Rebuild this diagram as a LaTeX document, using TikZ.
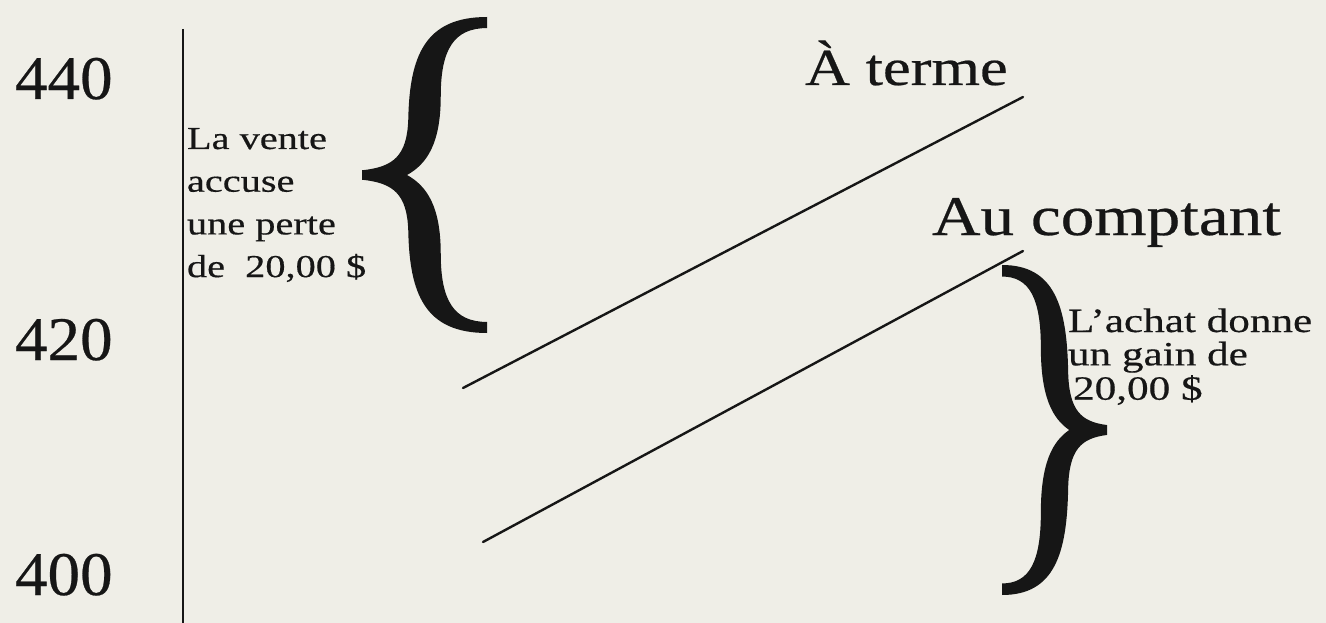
\documentclass[tikz,border=0pt]{standalone}
\usepackage{fontspec}
\setmainfont{Liberation Serif}
\newfontface\inkfont[FakeBold=0.4]{Liberation Serif}
\definecolor{bg}{RGB}{239,238,231}
\definecolor{ink}{RGB}{22,22,22}
\tikzset{
  lbl/.style={inner sep=0pt, outer sep=0pt, text=ink, anchor=base west, font=\inkfont},
  chartline/.style={draw=ink, line width=2.4pt, line cap=round},
  axisline/.style={draw=ink, line width=2pt},
  bracepic/.pic={
    \fill[ink] (0,0.03) .. controls (0.25,0.05) and (0.36,0.12) .. (0.37,0.35)
      .. controls (0.38,0.75) and (0.5,1.0) .. (1,1.0) -- (1,0.93)
      .. controls (0.74,0.93) and (0.63,0.8) .. (0.63,0.5)
      .. controls (0.63,0.2) and (0.52,0.07) .. (0.36,0)
      .. controls (0.52,-0.07) and (0.63,-0.2) .. (0.63,-0.5)
      .. controls (0.63,-0.8) and (0.74,-0.93) .. (1,-0.93) -- (1,-1.0)
      .. controls (0.5,-1.0) and (0.38,-0.75) .. (0.37,-0.35)
      .. controls (0.36,-0.12) and (0.25,-0.05) .. (0,-0.03) -- cycle;
  }
}
\begin{document}
\begin{tikzpicture}[x=1pt,y=-1pt]
\fill[bg] (0,0) rectangle (1326,623);
\useasboundingbox (0,0) rectangle (1326,623);

% axis
\coordinate (axtop) at (183,29);
\coordinate (axbot) at (183,623);
\draw[axisline] (axtop) -- (axbot);

% axis values
\node[lbl] (v440) at (15,99) {\fontsize{62}{62}\selectfont\scalebox{1.05}[1]{440}};
\node[lbl] (v420) at (15,360) {\fontsize{62}{62}\selectfont\scalebox{1.05}[1]{420}};
\node[lbl] (v400) at (15,595) {\fontsize{62}{62}\selectfont\scalebox{1.05}[1]{400}};

% left label
\node[lbl] (perte) at (187,149) {\fontsize{32}{42.7}\selectfont\scalebox{1.26}[1]{\begin{tabular}[t]{@{}l@{}}La vente\\ accuse\\ une perte\\ de\ \ 20,00 \$\end{tabular}}};

% braces
\pic at (362,175) [xscale=125, yscale=158] {bracepic};
\pic at (1107,430) [xscale=-105, yscale=165] {bracepic};

% lines
\coordinate (t1) at (463,388);
\coordinate (t2) at (1023,97);
\coordinate (c1) at (483,542);
\coordinate (c2) at (1023,251);
\draw[chartline] (t1) -- (t2);
\draw[chartline] (c1) -- (c2);

% line labels
\node[lbl] (terme) at (805,85) {\fontsize{52}{52}\selectfont\scalebox{1.2}[1]{À terme}};
\node[lbl] (comptant) at (932,235) {\fontsize{56}{56}\selectfont\scalebox{1.2}[1]{Au comptant}};

% right label
\node[lbl] (gain) at (1068,332) {\fontsize{34}{32.5}\selectfont\scalebox{1.27}[1]{\begin{tabular}[t]{@{}l@{}}L’achat donne\\ un gain de\\ \hspace{4pt}20,00 \$\end{tabular}}};
\end{tikzpicture}
\end{document}
